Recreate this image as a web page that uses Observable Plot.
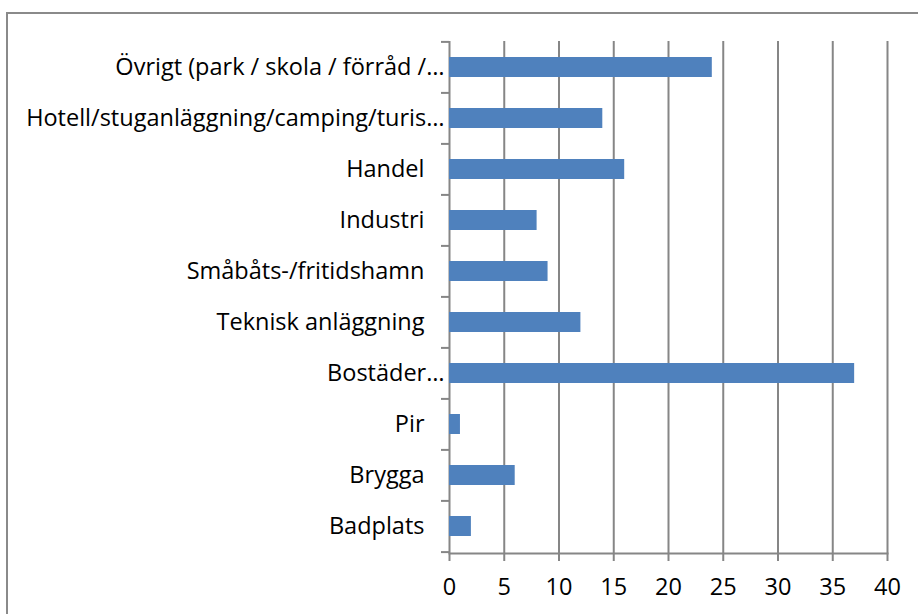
<!DOCTYPE html>
<html>
<head>
<meta charset="utf-8">
<script src="https://cdn.jsdelivr.net/npm/d3@7"></script>
<script src="https://cdn.jsdelivr.net/npm/@observablehq/plot@0.6"></script>
<style>
  html, body { margin: 0; padding: 0; background: #fff; }
  #wrap { position: relative; width: 918px; height: 614px; overflow: hidden; }
  #border { position: absolute; left: 6px; top: 12px; width: 1000px; height: 1000px; border: 2px solid #8a8a8a; box-sizing: border-box; }
  #chart { position: absolute; left: 0; top: 0; }
</style>
</head>
<body>
<div id="wrap"><div id="border"></div><div id="chart"></div></div>
<script>
const categories = [
  "Övrigt (park / skola / förråd /…",
  "Hotell/stuganläggning/camping/turis…",
  "Handel",
  "Industri",
  "Småbåts-/fritidshamn",
  "Teknisk anläggning",
  "Bostäder…",
  "Pir",
  "Brygga",
  "Badplats"
];
const values = [24, 14, 16, 8, 9, 12, 37, 1, 6, 2];
const xTicks = [0, 5, 10, 15, 20, 25, 30, 35, 40];

const data = categories.map((c, i) => ({cat: c, val: values[i]}));
const truncated = categories.filter(c => c.endsWith("…"));
const full = categories.filter(c => !c.endsWith("…"));

const W = 918, H = 614;
const mL = 449, mR = 31, mT = 41, mB = 61;
const step = (H - mT - mB) / categories.length;
const grid = "#868686";
const font = "Open Sans, sans-serif";
const fs = 23.5;

const chart = Plot.plot({
  width: W,
  height: H,
  marginLeft: mL,
  marginRight: mR,
  marginTop: mT,
  marginBottom: mB,
  style: {fontFamily: font, fontSize: fs + "px", color: "#000", background: "transparent", overflow: "visible"},
  x: {domain: [0, 40]},
  y: {domain: categories, paddingInner: 0.6, paddingOuter: 0.3, align: 0.5},
  marks: [
    Plot.ruleX(xTicks, {x: d => d, stroke: grid, strokeWidth: 2}),
    Plot.barX(data, {y: "cat", x: "val", fill: "#4F81BD"}),
    Plot.frame({anchor: "bottom", stroke: grid, strokeWidth: 2}),
    Plot.axisX({ticks: xTicks, tickSize: 8, tickPadding: 17, stroke: grid, strokeWidth: 2, fill: "#000", fontSize: fs, label: null, tickFormat: d => String(d)}),
    Plot.axisY({ticks: truncated, tickSize: 0, tickPadding: 5, fill: "#000", fontSize: fs, label: null}),
    Plot.axisY({ticks: full, tickSize: 0, tickPadding: 25, fill: "#000", fontSize: fs, label: null}),
    Plot.axisY({tickSize: 8, text: null, stroke: grid, strokeWidth: 2, dy: -step / 2, label: null}),
    Plot.axisY({ticks: [categories[categories.length - 1]], tickSize: 8, text: null, stroke: grid, strokeWidth: 2, dy: step / 2, label: null})
  ]
});
document.getElementById("chart").appendChild(chart);
</script>
</body>
</html>
